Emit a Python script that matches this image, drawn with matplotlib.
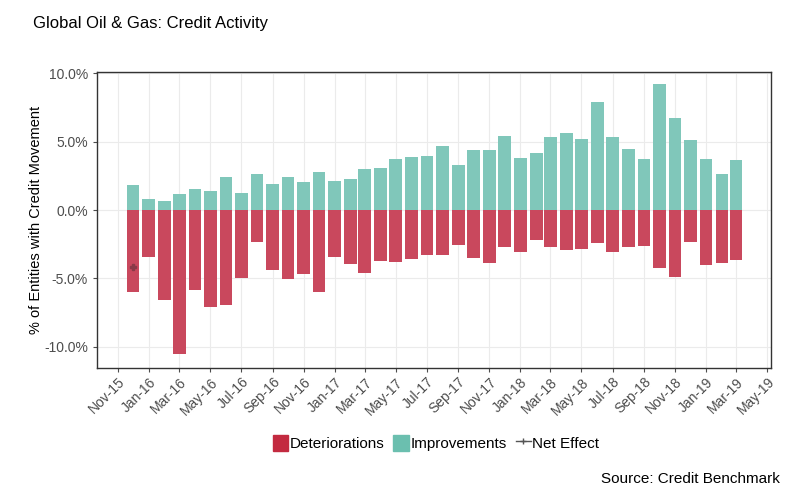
import datetime as dt
import matplotlib
matplotlib.use('Agg')
import matplotlib.pyplot as plt
import matplotlib.dates as mdates
from matplotlib.patches import Patch
from matplotlib.lines import Line2D
from matplotlib.ticker import FuncFormatter

plt.rcParams['font.family'] = ['Liberation Sans', 'DejaVu Sans']

# monthly data, Dec-15 .. Mar-19 (% of entities)
months = [dt.date(2015 + (11 + i) // 12, (11 + i) % 12 + 1, 1) for i in range(40)]
improvements = [1.83, 0.78, 0.66, 1.17, 1.54, 1.42, 2.41, 1.24, 2.63, 1.93,
                2.41, 2.05, 2.80, 2.12, 2.27, 3.00, 3.10, 3.73, 3.88, 3.98,
                4.70, 3.29, 4.39, 4.39, 5.41, 3.80, 4.17, 5.34, 5.63, 5.20,
                7.90, 5.34, 4.46, 3.72, 9.22, 6.73, 5.12, 3.73, 2.63, 3.68]
deteriorations = [-5.98, -3.41, -6.56, -10.51, -5.83, -7.07, -6.93, -4.95, -2.32, -4.37,
                  -5.02, -4.66, -5.98, -3.41, -3.93, -4.59, -3.71, -3.78, -3.56, -3.27,
                  -3.27, -2.54, -3.49, -3.85, -2.68, -3.05, -2.17, -2.68, -2.90, -2.83,
                  -2.39, -3.05, -2.68, -2.61, -4.22, -4.88, -2.32, -4.00, -3.85, -3.63]
net_effect = [i + d for i, d in zip(improvements, deteriorations)]

red = '#C9485D'
teal = '#80C7BA'

fig = plt.figure(figsize=(8, 5), dpi=100)
ax = fig.add_axes([0.121, 0.264, 0.843, 0.592])

ax.bar(months, improvements, width=25, color=teal, zorder=2)
ax.bar(months, deteriorations, width=25, color=red, zorder=2)
# net effect sits inside the bars; only the first point shows above them
ax.plot(months, net_effect, ls='none', marker='+', color='#555555', ms=5, zorder=1)
ax.plot(months[:1], net_effect[:1], ls='none', marker='P', color='#8a3a48', ms=4, zorder=3)

ax.set_xlim(dt.date(2015, 9, 21), dt.date(2019, 5, 9))
ax.set_ylim(-11.55, 10.1)
ax.set_yticks([-10, -5, 0, 5, 10])
ax.yaxis.set_major_formatter(FuncFormatter(lambda v, p: '{:.1f}%'.format(v)))
ax.xaxis.set_major_locator(mdates.MonthLocator(bymonth=[1, 3, 5, 7, 9, 11]))
ax.xaxis.set_major_formatter(mdates.DateFormatter('%b-%y'))
plt.setp(ax.get_xticklabels(), rotation=45, ha='right', rotation_mode='anchor')

ax.grid(True, color='#EBEBEB', lw=0.8, zorder=0)
ax.set_axisbelow(True)
for s in ax.spines.values():
    s.set_color('#333333')
    s.set_linewidth(1)
ax.tick_params(colors='#4D4D4D', labelsize=10, length=3, width=0.8)
ax.tick_params(axis='x', pad=2)

ax.set_ylabel('% of Entities with Credit Movement', fontsize=10.5, color='black', labelpad=1)

fig.text(0.041, 0.953, 'Global Oil & Gas: Credit Activity', fontsize=12, ha='left', va='center')
fig.text(0.975, 0.042, 'Source: Credit Benchmark', fontsize=11, ha='right', va='center')

handles = [Patch(color='#C32A40'), Patch(color='#6BBFAF'),
           Line2D([], [], color='#555555', marker='+', lw=1, ms=5)]
fig.legend(handles, ['Deteriorations', 'Improvements', 'Net Effect'],
           loc='center', bbox_to_anchor=(0.545, 0.114), ncol=3, frameon=False,
           fontsize=11, handlelength=1.0, handleheight=1.3, handletextpad=0.1,
           columnspacing=0.6)

fig.savefig('out.png', dpi=100)
